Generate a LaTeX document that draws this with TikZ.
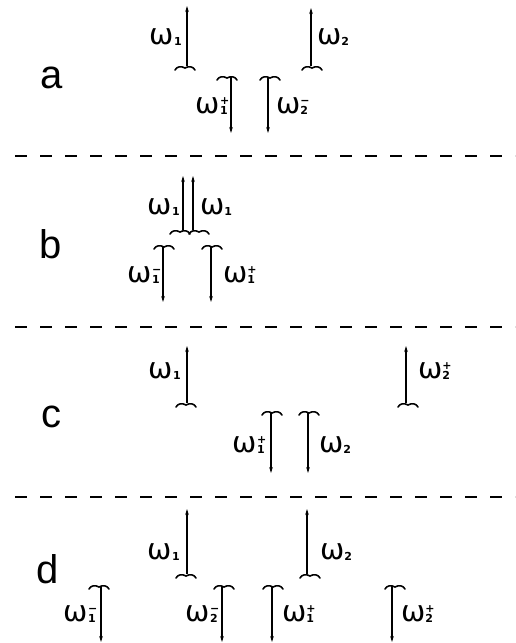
\documentclass[tikz,border=0pt]{standalone}
\usepackage{fontspec}
\setmainfont{Liberation Sans}
\newfontfamily\omfont{DejaVu Sans}
\usetikzlibrary{arrows.meta}
\newcommand\om[2]{{\omfont\fontsize{29}{29}\selectfont ω}{\omfont\bfseries\fontsize{11}{11}\selectfont\rlap{\raisebox{8.5pt}{#2}}\raisebox{-1.5pt}{#1}}}
\newcommand\mn{−}
\tikzset{
  arr/.style={line width=1.6pt,-{Stealth[length=6pt,width=3.6pt]}},
  wavy/.style={line width=1.6pt,line cap=round},
  wave/.pic={\draw[wavy] (-10,2) .. controls (-8,-1.6) and (-4,-2.2) .. (0,0) .. controls (4,-2.2) and (8,-1.6) .. (10,2);},
  sep/.style={line width=2.2pt,dash pattern=on 12pt off 13pt},
  panel/.style={font=\fontsize{40}{40}\selectfont,inner sep=0pt,anchor=base},
  lab/.style={inner sep=0pt}
}
\begin{document}
\begin{tikzpicture}[x=1pt,y=-1pt]
\useasboundingbox (0,0) rectangle (515,643);
% ---------- separators
\coordinate (s1l) at (15,156); \coordinate (s1r) at (515,156);
\coordinate (s2l) at (15,327); \coordinate (s2r) at (515,327);
\coordinate (s3l) at (15,497); \coordinate (s3r) at (515,497);
\draw[sep] (s1l) -- (s1r);
\draw[sep] (s2l) -- (s2r);
\draw[sep] (s3l) -- (s3r);
% ---------- panel a
\node[panel] (pa) at (52,88) {a};
\coordinate (aw1) at (185,68); \coordinate (as1) at (187,66); \coordinate (ae1) at (187,6);
\pic at (aw1) {wave}; \draw[arr] (as1) -- (ae1);
\node[lab,anchor=east] (al1) at (182,37) {\om{1}{}};
\coordinate (aw2) at (312,68); \coordinate (as2) at (311,66); \coordinate (ae2) at (311,8);
\pic at (aw2) {wave}; \draw[arr] (as2) -- (ae2);
\node[lab,anchor=west] (al2) at (317,37) {\om{2}{}};
\coordinate (aw3) at (227,78); \coordinate (as3) at (231,77); \coordinate (ae3) at (231,133);
\pic at (aw3) {wave}; \draw[arr] (as3) -- (ae3);
\node[lab,anchor=east] (al3) at (228,106) {\om{1}{+}};
\coordinate (aw4) at (270,78); \coordinate (as4) at (268,77); \coordinate (ae4) at (268,133);
\pic at (aw4) {wave}; \draw[arr] (as4) -- (ae4);
\node[lab,anchor=west] (al4) at (276,106) {\om{2}{\mn}};
% ---------- panel b
\node[panel] (pb) at (51,258) {b};
\coordinate (bw1) at (180,232); \coordinate (bs1) at (183,230); \coordinate (be1) at (183,176);
\pic at (bw1) {wave}; \draw[arr] (bs1) -- (be1);
\coordinate (bw2) at (199,232); \coordinate (bs2) at (193,230); \coordinate (be2) at (193,176);
\pic at (bw2) {wave}; \draw[arr] (bs2) -- (be2);
\node[lab,anchor=east] (bl1) at (180,207) {\om{1}{}};
\node[lab,anchor=west] (bl2) at (200,207) {\om{1}{}};
\coordinate (bw3) at (164,247); \coordinate (bs3) at (163,246); \coordinate (be3) at (163,302);
\pic at (bw3) {wave}; \draw[arr] (bs3) -- (be3);
\node[lab,anchor=east] (bl3) at (160,275) {\om{1}{\mn}};
\coordinate (bw4) at (212,247); \coordinate (bs4) at (211,246); \coordinate (be4) at (211,302);
\pic at (bw4) {wave}; \draw[arr] (bs4) -- (be4);
\node[lab,anchor=west] (bl4) at (223,275) {\om{1}{+}};
% ---------- panel c
\node[panel] (pc) at (51,427) {c};
\coordinate (cw1) at (186,405); \coordinate (cs1) at (187,403); \coordinate (ce1) at (187,346);
\pic at (cw1) {wave}; \draw[arr] (cs1) -- (ce1);
\node[lab,anchor=east] (cl1) at (181,371) {\om{1}{}};
\coordinate (cw2) at (408,405); \coordinate (cs2) at (406,403); \coordinate (ce2) at (406,346);
\pic at (cw2) {wave}; \draw[arr] (cs2) -- (ce2);
\node[lab,anchor=west] (cl2) at (418,371) {\om{2}{+}};
\coordinate (cw3) at (272,413); \coordinate (cs3) at (271,412); \coordinate (ce3) at (271,473);
\pic at (cw3) {wave}; \draw[arr] (cs3) -- (ce3);
\node[lab,anchor=east] (cl3) at (265,445) {\om{1}{+}};
\coordinate (cw4) at (309,413); \coordinate (cs4) at (308,412); \coordinate (ce4) at (308,473);
\pic at (cw4) {wave}; \draw[arr] (cs4) -- (ce4);
\node[lab,anchor=west] (cl4) at (319,445) {\om{2}{}};
% ---------- panel d
\node[panel] (pd) at (48,583) {d};
\coordinate (dw1) at (186,576); \coordinate (ds1) at (187,574); \coordinate (de1) at (187,509);
\pic at (dw1) {wave}; \draw[arr] (ds1) -- (de1);
\node[lab,anchor=east] (dl1) at (180,552) {\om{1}{}};
\coordinate (dw2) at (310,576); \coordinate (ds2) at (307,574); \coordinate (de2) at (307,509);
\pic at (dw2) {wave}; \draw[arr] (ds2) -- (de2);
\node[lab,anchor=west] (dl2) at (320,552) {\om{2}{}};
\coordinate (dw3) at (99,587); \coordinate (ds3) at (101,586); \coordinate (de3) at (101,642);
\pic at (dw3) {wave}; \draw[arr] (ds3) -- (de3);
\node[lab,anchor=east] (dl3) at (96,614) {\om{1}{\mn}};
\coordinate (dw4) at (224,587); \coordinate (ds4) at (222,586); \coordinate (de4) at (222,642);
\pic at (dw4) {wave}; \draw[arr] (ds4) -- (de4);
\node[lab,anchor=east] (dl4) at (218,614) {\om{2}{\mn}};
\coordinate (dw5) at (273,587); \coordinate (ds5) at (272,586); \coordinate (de5) at (272,642);
\pic at (dw5) {wave}; \draw[arr] (ds5) -- (de5);
\node[lab,anchor=west] (dl5) at (282,614) {\om{1}{+}};
\coordinate (dw6) at (395,587); \coordinate (ds6) at (392,586); \coordinate (de6) at (392,642);
\pic at (dw6) {wave}; \draw[arr] (ds6) -- (de6);
\node[lab,anchor=west] (dl6) at (401,614) {\om{2}{+}};
\end{tikzpicture}
\end{document}
